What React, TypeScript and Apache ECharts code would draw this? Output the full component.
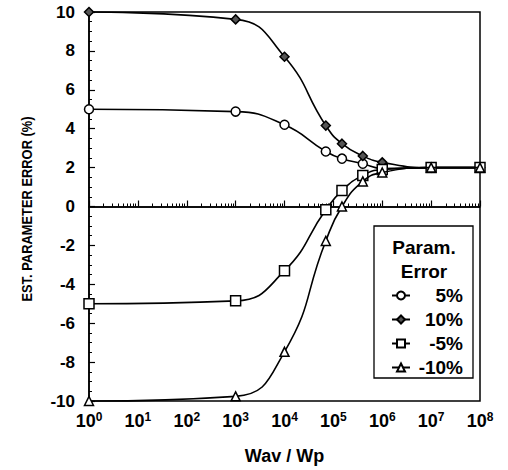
import React, { useEffect, useRef } from "react";
import * as echarts from "echarts";

const xVals = [1, 1e3, 1e4, 7e4, 1.5e5, 4e5, 1e6, 1e7, 1e8];
const err5 = [5.0, 4.88, 4.2, 2.83, 2.46, 2.2, 1.95, 2.0, 2.0];
const err10 = [10.0, 9.62, 7.7, 4.16, 3.23, 2.6, 2.27, 2.0, 2.0];
const errM5 = [-5.0, -4.85, -3.3, -0.17, 0.82, 1.6, 1.9, 2.0, 2.0];
const errM10 = [-10.0, -9.76, -7.47, -1.77, 0.0, 1.29, 1.75, 2.0, 2.0];
const seriesNames = ["5%", "10%", "-5%", "-10%"];
const legendTitle = ["Param.", "Error"];
const yTitle = "EST. PARAMETER ERROR (%)";
const xTitle = "Wav / Wp";

const FONT = "'Liberation Sans', Arial, sans-serif";

export default function App() {
  const ref = useRef<HTMLDivElement>(null);
  useEffect(() => {
    if (!ref.current) return;
    const chart = echarts.init(ref.current, null, { renderer: "svg" });
    const mk = (name: string, vals: number[], symbol: string, size: number, fill: string, z: number) => ({
      name,
      type: "line",
      data: xVals.map((x, i) => [x, vals[i]]),
      smooth: 0.5,
      symbol,
      symbolSize: size,
      showAllSymbol: true,
      clip: false,
      z,
      lineStyle: { color: "#000", width: 1.6 },
      itemStyle: { color: fill, borderColor: "#000", borderWidth: 1.5 },
    });
    const series: any[] = [
      mk(seriesNames[0], err5, "circle", 9, "#fff", 3),
      mk(seriesNames[1], err10, "diamond", 9, "#555", 4),
      mk(seriesNames[2], errM5, "rect", 10, "#fff", 5),
      mk(seriesNames[3], errM10, "triangle", 9, "#fff", 6),
    ];
    series[0].markLine = {
      silent: true,
      symbol: "none",
      label: { show: false },
      lineStyle: { color: "#000", width: 1.6, type: "solid" },
      data: [{ yAxis: 0 }],
    };
    chart.setOption({
      animation: false,
      backgroundColor: "#fff",
      grid: {
        left: 89,
        right: 28,
        top: 12,
        bottom: 69,
        show: true,
        borderColor: "#000",
        borderWidth: 1.5,
      },
      xAxis: {
        type: "log",
        logBase: 10,
        min: 1,
        max: 1e8,
        name: xTitle,
        nameLocation: "middle",
        nameGap: 46,
        nameTextStyle: { fontFamily: FONT, fontWeight: "bold", fontSize: 18, color: "#000" },
        axisLine: { lineStyle: { color: "#000", width: 1.6 } },
        axisTick: { inside: true, length: 6, lineStyle: { color: "#000", width: 1.2 } },
        minorTick: { show: true, splitNumber: 9, length: 3, lineStyle: { color: "#000", width: 1 } },
        splitLine: { show: false },
        axisLabel: {
          margin: 10,
          fontFamily: FONT,
          fontWeight: "bold",
          fontSize: 18,
          color: "#000",
          formatter: (v: number) => `10{sup|${Math.round(Math.log10(v))}}`,
          rich: {
            sup: { fontFamily: FONT, fontWeight: "bold", fontSize: 12, color: "#000", verticalAlign: "top", padding: [0, 0, 8, 0] },
          },
        },
      },
      yAxis: {
        type: "value",
        min: -10,
        max: 10,
        interval: 2,
        axisLine: { lineStyle: { color: "#000", width: 1.6 } },
        axisTick: { inside: true, length: 6, lineStyle: { color: "#000", width: 1.2 } },
        minorTick: { show: true, splitNumber: 4, length: 3, lineStyle: { color: "#000", width: 1 } },
        splitLine: { show: false },
        axisLabel: { margin: 14, fontFamily: FONT, fontWeight: "bold", fontSize: 17, color: "#000" },
      },
      legend: {
        orient: "vertical",
        left: 386,
        top: 281,
        z: 50,
        itemGap: 5,
        itemWidth: 18,
        itemHeight: 10,
        formatter: (name: string) => `{r|${name}}`,
        textStyle: {
          fontFamily: FONT,
          fontWeight: "bold",
          fontSize: 19,
          color: "#000",
          rich: {
            r: { fontFamily: FONT, fontWeight: "bold", fontSize: 19, color: "#000", width: 48, align: "right" },
          },
        },
        data: seriesNames,
      },
      graphic: [
        {
          type: "rect",
          z: 1,
          shape: { x: 374, y: 226, width: 99, height: 152 },
          style: { fill: "#fff", stroke: "#000", lineWidth: 1.3 },
        },
        {
          type: "text",
          z: 2,
          x: 424,
          y: 247,
          style: { text: legendTitle[0], fontFamily: FONT, fontWeight: "bold", fontSize: 19, fill: "#000", align: "center", verticalAlign: "middle" },
        },
        {
          type: "text",
          z: 2,
          x: 424,
          y: 271,
          style: { text: legendTitle[1], fontFamily: FONT, fontWeight: "bold", fontSize: 19, fill: "#000", align: "center", verticalAlign: "middle" },
        },
        {
          type: "text",
          z: 2,
          x: 27,
          y: 209,
          rotation: Math.PI / 2,
          scaleX: 0.86,
          style: { text: yTitle, fontFamily: FONT, fontWeight: "bold", fontSize: 15, fill: "#000", align: "center", verticalAlign: "middle" },
        },
      ],
      series,
    });
    return () => chart.dispose();
  }, []);
  return <div ref={ref} style={{ width: 508, height: 470, position: "absolute", left: 0, top: 0 }} />;
}
